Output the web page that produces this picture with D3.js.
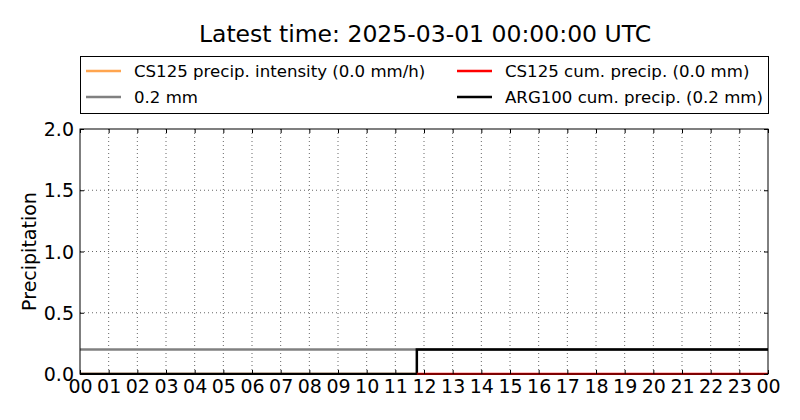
<!DOCTYPE html>
<html><head><meta charset="utf-8">
<script src="https://cdn.jsdelivr.net/npm/d3@7"></script>
<style>body{margin:0;background:#fff}svg{display:block}text{font-family:"DejaVu Sans",sans-serif}</style>
</head><body><svg id="c" width="800" height="420"></svg>
<script>
const title = "Latest time: 2025-03-01 00:00:00 UTC";
const xTickLabels = ["00","01","02","03","04","05","06","07","08","09","10","11","12","13","14","15","16","17","18","19","20","21","22","23","00"];
const yTicks = [0.0, 0.5, 1.0, 1.5, 2.0];
// hours since start of window
const thresholdHours = [0, 24];
const thresholdValues = [0.2, 0.2];
const cs125IntHours = [0, 11.75];
const cs125IntValues = [0, 0];
const arg100Hours = [0, 11.75, 24];
const arg100Cum = [0, 0.2, 0.2];
const cs125CumHours = [11.75, 24];
const cs125CumValues = [0, 0];
const legendItems = [
  {label:"CS125 precip. intensity (0.0 mm/h)", color:"#ffa54f"},
  {label:"CS125 cum. precip. (0.0 mm)", color:"#ff0000"},
  {label:"0.2 mm", color:"#808080"},
  {label:"ARG100 cum. precip. (0.2 mm)", color:"#000000"}
];

const svg = d3.select("#c");
const m = {l:80, r:768, t:129, b:374};
const x = d3.scaleLinear().domain([0,24]).range([m.l, m.r]);
const y = d3.scaleLinear().domain([0,2]).range([m.b, m.t]);

svg.append("text").attr("x",425).attr("y",42).attr("text-anchor","middle")
  .style("font-size","23.5px").text(title);

// grid
const g = svg.append("g");
g.selectAll(".gx").data(d3.range(1,24)).join("line")
  .attr("x1",d=>x(d)).attr("x2",d=>x(d)).attr("y1",m.t).attr("y2",m.b)
  .attr("stroke","#000").attr("stroke-width",0.6).attr("stroke-dasharray","1,3");
g.selectAll(".gy").data(yTicks.slice(1,-1)).join("line")
  .attr("x1",m.l).attr("x2",m.r).attr("y1",d=>y(d)).attr("y2",d=>y(d))
  .attr("stroke","#000").attr("stroke-width",0.6).attr("stroke-dasharray","1,3");

// clip
svg.append("clipPath").attr("id","cp").append("rect")
  .attr("x",m.l).attr("y",m.t).attr("width",m.r-m.l).attr("height",m.b-m.t+1);
const plot = svg.append("g").attr("clip-path","url(#cp)");
function drawLine(xs, ys, color, curve){
  const line = d3.line().x(d=>x(d[0])).y(d=>y(d[1])).curve(curve||d3.curveLinear);
  plot.append("path").datum(xs.map((v,i)=>[v,ys[i]])).attr("d",line)
    .attr("fill","none").attr("stroke",color).attr("stroke-width",2.5);
}
drawLine(thresholdHours, thresholdValues, "#808080");
drawLine(cs125IntHours, cs125IntValues, "#ffa54f");
drawLine(arg100Hours, arg100Cum, "#000", d3.curveStepAfter);
drawLine(cs125CumHours, cs125CumValues, "#ff0000");

// axes
const xAxis = d3.axisBottom(x).tickValues(d3.range(0,25)).tickFormat((d,i)=>xTickLabels[i]).tickSizeInner(-4).tickSizeOuter(0).tickPadding(6);
const xa = svg.append("g").attr("transform",`translate(0,${m.b})`).call(xAxis);
const yAxis = d3.axisLeft(y).tickValues(yTicks).tickFormat(d3.format(".1f")).tickSizeInner(-4).tickSizeOuter(0).tickPadding(6);
const ya = svg.append("g").attr("transform",`translate(${m.l},0)`).call(yAxis);
const xt = svg.append("g").attr("transform",`translate(0,${m.t})`).call(d3.axisTop(x).tickValues(d3.range(0,25)).tickFormat("").tickSizeInner(-4).tickSizeOuter(0));
const yr = svg.append("g").attr("transform",`translate(${m.r},0)`).call(d3.axisRight(y).tickValues(yTicks).tickFormat("").tickSizeInner(-4).tickSizeOuter(0));
[xa,ya,xt,yr].forEach(a=>{a.select(".domain").remove(); a.selectAll("line").attr("stroke","#000");
  a.selectAll("text").style("font-size","19px").attr("font-family","DejaVu Sans").attr("fill","#000");});
ya.selectAll("text").attr("dy","0.35em");
xa.selectAll("text").attr("dy","0.71em");
svg.append("rect").attr("x",m.l).attr("y",m.t).attr("width",m.r-m.l).attr("height",m.b-m.t)
  .attr("fill","none").attr("stroke","#000").attr("stroke-width",1);

svg.append("text").attr("transform",`translate(36,${(m.t+m.b)/2}) rotate(-90)`)
  .attr("text-anchor","middle").style("font-size","19px").text("Precipitation");

// legend
svg.append("rect").attr("x",80.5).attr("y",56.5).attr("width",688).attr("height",57)
  .attr("fill","#fff").attr("stroke","#000").attr("stroke-width",1);
const cols=[86,457], rows=[71,97];
legendItems.forEach((it,i)=>{
  const cx=cols[i%2], cy=rows[Math.floor(i/2)];
  svg.append("line").attr("x1",cx).attr("x2",cx+35).attr("y1",cy).attr("y2",cy)
    .attr("stroke",it.color).attr("stroke-width",2.5);
  svg.append("text").attr("x",cx+48).attr("y",cy).attr("dy","0.35em")
    .style("font-size","16.6px").text(it.label);
});
</script></body></html>
